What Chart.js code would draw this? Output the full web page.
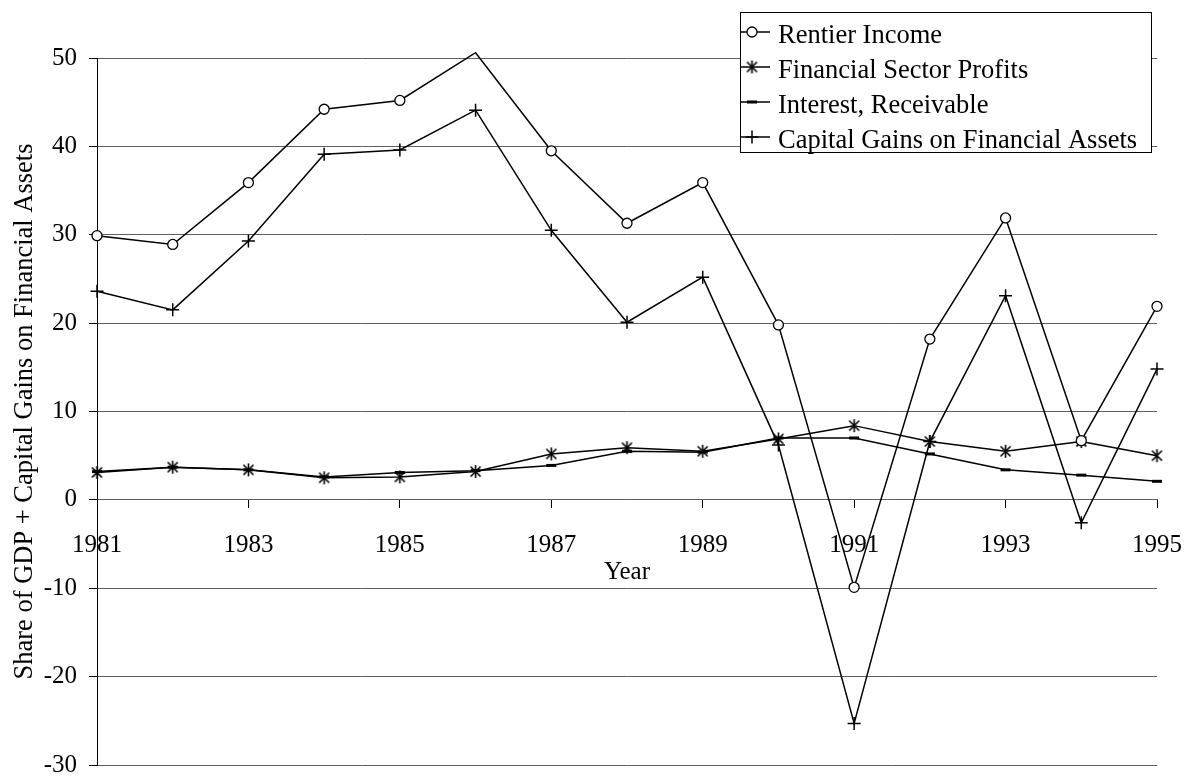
<!DOCTYPE html>
<html>
<head>
<meta charset="utf-8">
<script src="https://cdn.jsdelivr.net/npm/chart.js@4.4.1/dist/chart.umd.min.js"></script>
<style>
  html, body { margin: 0; padding: 0; background: #ffffff; }
  #c { display: block; }
</style>
</head>
<body>
<canvas id="c" width="1186" height="780"></canvas>
<script>
// Years on the horizontal axis
const years = [1981, 1982, 1983, 1984, 1985, 1986, 1987, 1988, 1989, 1990, 1991, 1992, 1993, 1994, 1995];

// Series values (percent)
const rentierIncome          = [29.9, 28.9, 35.9, 44.2, 45.2, 50.6, 39.5, 31.3, 35.9, 19.8, -9.9, 18.2, 31.9, 6.7, 21.9];
const financialSectorProfits = [3.1, 3.7, 3.4, 2.5, 2.6, 3.2, 5.2, 5.9, 5.5, 6.9, 8.4, 6.6, 5.5, 6.6, 5.0];
const interestReceivable     = [3.2, 3.7, 3.4, 2.6, 3.1, 3.3, 3.9, 5.5, 5.4, 7.0, 7.0, 5.2, 3.4, 2.8, 2.1];
const capitalGains           = [23.6, 21.5, 29.3, 39.1, 39.6, 44.1, 30.5, 20.1, 25.2, 6.2, -25.3, 6.6, 23.1, -2.6, 14.8];

const seriesNames = ['Rentier Income', 'Financial Sector Profits', 'Interest, Receivable', 'Capital Gains on Financial Assets'];

// Axis ranges and tick spacing
const yMin = -30, yMax = 50, yStep = 10;
const xMin = 1981, xMax = 1995, xStep = 2;

const SERIF = '"Liberation Serif", "Times New Roman", serif';
const GRID = '#606060';

// Asterisk marker: vertical bar crossed by two diagonals
function asteriskMarker() {
  const s = 15, c = document.createElement('canvas');
  c.width = s; c.height = s;
  const g = c.getContext('2d');
  g.strokeStyle = '#000';
  g.lineWidth = 1.6;
  g.beginPath();
  g.moveTo(7.5, 1);   g.lineTo(7.5, 14);
  g.moveTo(2.5, 2.5); g.lineTo(12.5, 12.5);
  g.moveTo(12.5, 2.5); g.lineTo(2.5, 12.5);
  g.stroke();
  return c;
}
const starImg = asteriskMarker();

function pts(values) {
  return years.map((yr, i) => ({ x: yr, y: values[i] }));
}

const markerStyles = [
  { pointStyle: 'circle', radius: 5, borderWidth: 1.3 },
  { pointStyle: starImg, radius: 7, borderWidth: 1.6 },
  { pointStyle: 'line', radius: 5, borderWidth: 3 },
  { pointStyle: 'cross', radius: 6.5, borderWidth: 1.5 }
];

const seriesValues = [rentierIncome, financialSectorProfits, interestReceivable, capitalGains];

const datasets = seriesValues.map((vals, i) => ({
  label: seriesNames[i],
  data: pts(vals),
  borderColor: '#000000',
  backgroundColor: '#ffffff',
  borderWidth: 1.5,
  tension: 0,
  clip: false,
  pointStyle: markerStyles[i].pointStyle,
  // markers are not drawn outside the plotting range
  pointRadius: ctx => (ctx.raw && (ctx.raw.y > yMax || ctx.raw.y < yMin)) ? 0 : markerStyles[i].radius,
  pointBorderWidth: markerStyles[i].borderWidth,
  pointBorderColor: '#000000',
  pointBackgroundColor: '#ffffff',
  pointHoverRadius: markerStyles[i].radius
}));

// Boxed legend in the upper right, drawn over the plot
const boxLegend = {
  id: 'boxLegend',
  afterDraw(chart) {
    const ctx = chart.ctx;
    const x0 = 740, y0 = 12, x1 = 1151, y1 = 152;
    ctx.save();
    ctx.fillStyle = '#ffffff';
    ctx.fillRect(x0, y0, x1 - x0, y1 - y0);
    ctx.strokeStyle = '#000000';
    ctx.lineWidth = 1;
    ctx.strokeRect(x0 + 0.5, y0 + 0.5, x1 - x0, y1 - y0);
    ctx.font = '26.5px ' + SERIF;
    ctx.textAlign = 'left';
    ctx.textBaseline = 'alphabetic';
    chart.data.datasets.forEach((ds, i) => {
      const ly = 32 + i * 35;
      ctx.strokeStyle = '#000000';
      ctx.lineWidth = 1.5;
      ctx.beginPath();
      ctx.moveTo(741, ly);
      ctx.lineTo(770, ly);
      ctx.stroke();
      ctx.fillStyle = '#ffffff';
      ctx.lineWidth = markerStyles[i].borderWidth;
      Chart.helpers.drawPoint(ctx, {
        pointStyle: markerStyles[i].pointStyle,
        radius: markerStyles[i].radius,
        rotation: 0,
        borderWidth: markerStyles[i].borderWidth
      }, 752, ly);
      ctx.fillStyle = '#000000';
      ctx.fillText(ds.label, 778, ly + 11);
    });
    ctx.restore();
  }
};

new Chart(document.getElementById('c'), {
  type: 'line',
  data: { datasets },
  plugins: [boxLegend],
  options: {
    responsive: false,
    animation: false,
    events: [],
    layout: { padding: { top: 58, right: 29, bottom: 15, left: 0 } },
    plugins: {
      legend: { display: false },
      tooltip: { enabled: false }
    },
    scales: {
      x: {
        type: 'linear',
        position: { y: 0 },
        min: xMin,
        max: xMax,
        afterFit(s) { s.paddingLeft = 0; s.paddingRight = 0; },
        ticks: {
          stepSize: xStep,
          autoSkip: false,
          maxRotation: 0,
          padding: 23,
          color: '#000000',
          font: { family: SERIF, size: 25 },
          callback: v => String(v)
        },
        grid: {
          drawOnChartArea: false,
          drawTicks: true,
          tickLength: 8,
          tickColor: '#000000',
          tickWidth: 1
        },
        border: { display: true, color: GRID, width: 1 },
        title: {
          display: true,
          text: 'Year',
          color: '#000000',
          font: { family: SERIF, size: 25 },
          padding: { top: -26, bottom: 0 }
        }
      },
      y: {
        min: yMin,
        max: yMax,
        afterFit(s) { s.width = 97; s.paddingTop = 0; s.paddingBottom = 0; },
        ticks: {
          stepSize: yStep,
          padding: 12,
          color: '#000000',
          font: { family: SERIF, size: 25 }
        },
        grid: {
          color: GRID,
          lineWidth: 1,
          drawTicks: true,
          tickLength: 8,
          tickColor: '#000000'
        },
        border: { display: true, color: '#000000', width: 1 },
        title: {
          display: true,
          text: 'Share of GDP + Capital Gains on Financial Assets',
          color: '#000000',
          font: { family: SERIF, size: 26.5 },
          padding: { top: 9, bottom: 0 }
        }
      }
    }
  }
});
</script>
</body>
</html>
